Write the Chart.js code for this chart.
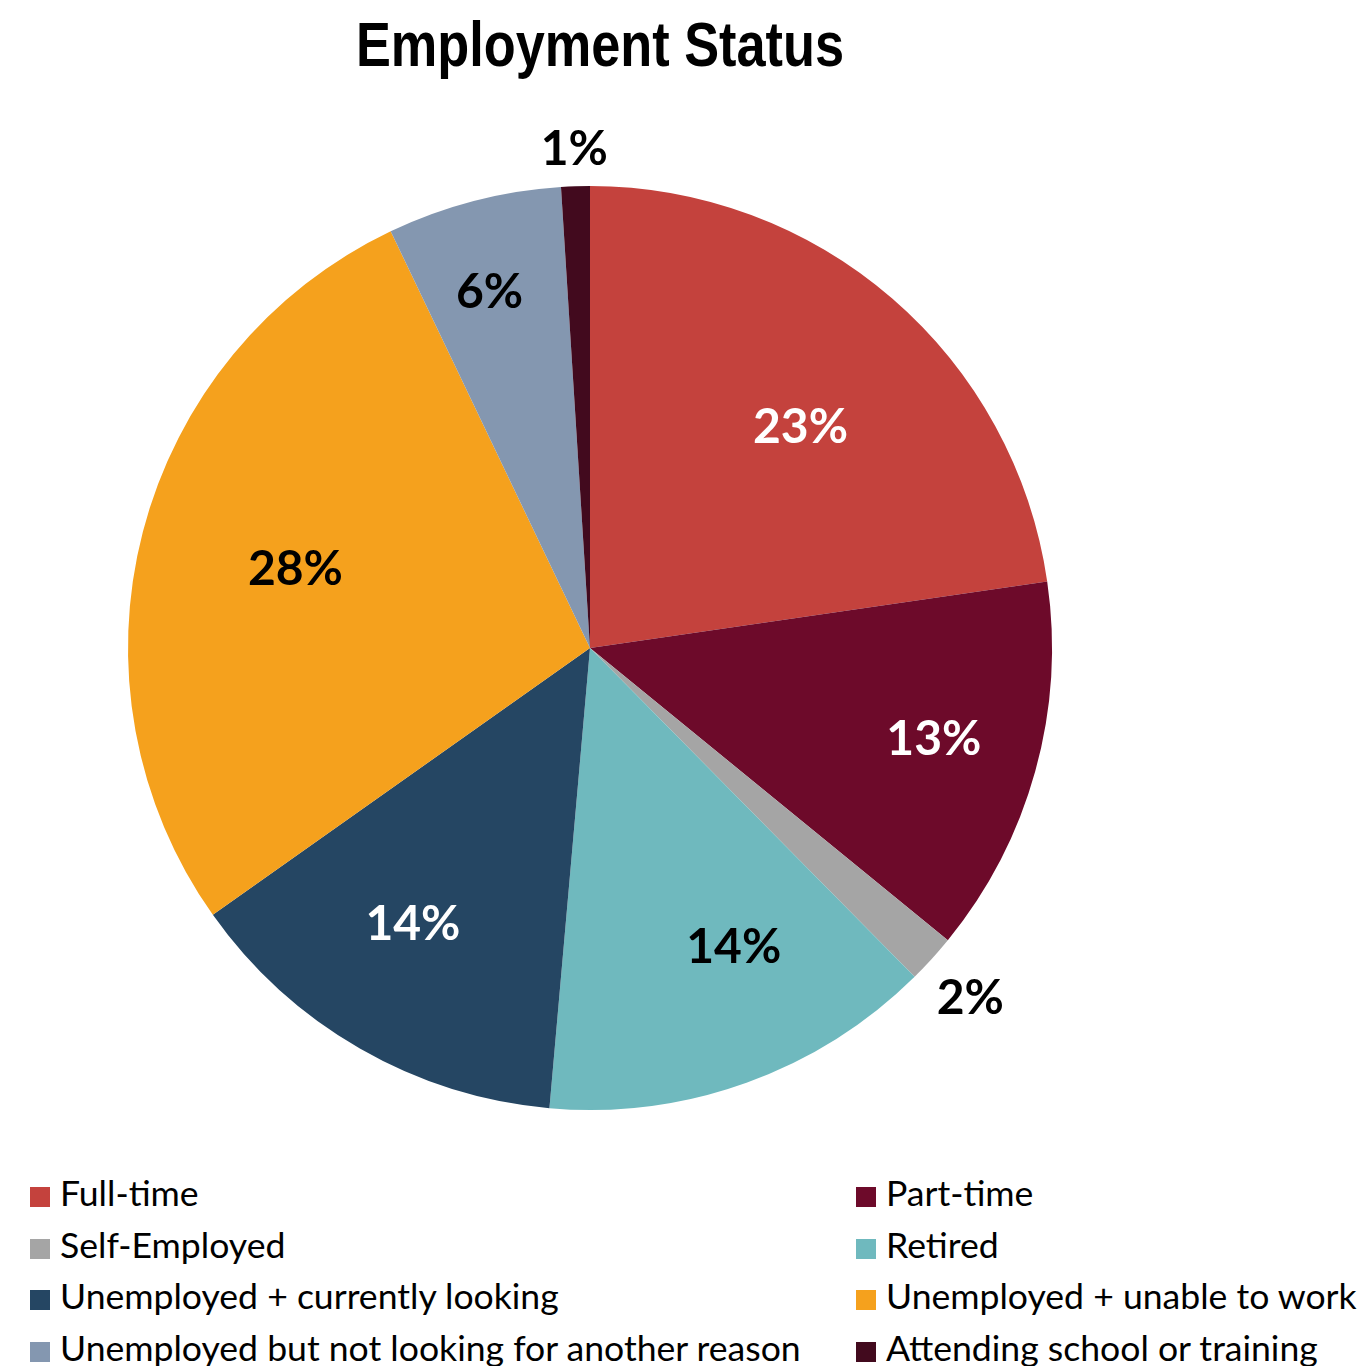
<!DOCTYPE html>
<html>
<head>
<meta charset="utf-8">
<script src="https://cdn.jsdelivr.net/npm/chart.js@4/dist/chart.umd.min.js"></script>
<style>
  html, body { margin: 0; padding: 0; background: #fff; width: 1362px; height: 1366px; overflow: hidden; }
  #title { position: absolute; left: 0; width: 1200px; top: 4px; text-align: center;
           font-family: "Liberation Sans", Arial, sans-serif; font-weight: bold;
           font-size: 63px; line-height: 80px; color: #000; transform: scaleX(0.83); transform-origin: 600px 0; }
  #wrap { position: absolute; left: 0; top: 0; width: 1362px; height: 1160px; }
  #legend { position: absolute; left: 0; top: 1167px; width: 1362px; font-family: Lato, "Open Sans", sans-serif;
            font-size: 35.6px; color: #000; }
  .item { position: absolute; white-space: nowrap; line-height: 52px; height: 52px; }
  .box { display: inline-block; width: 20px; height: 20px; margin-right: 10px; vertical-align: -1px; }
</style>
</head>
<body>
<div id="title">Employment Status</div>
<div id="wrap"><canvas id="c"></canvas></div>
<div id="legend"></div>
<script>
const categories = [
  "Full-time",
  "Part-time",
  "Self-Employed",
  "Retired",
  "Unemployed + currently looking",
  "Unemployed + unable to work",
  "Unemployed but not looking for another reason",
  "Attending school or training"
];
const values = [22.7, 13.2, 1.7, 13.8, 13.8, 27.7, 6.1, 1.0];
const colors = ["#C4423D", "#6D0A2A", "#A5A5A5", "#6FB9BE", "#254663", "#F5A11D", "#8497B0", "#420A1E"];
const labelColors = ["#fff", "#fff", "#000", "#000", "#fff", "#000", "#000", "#000"];
// label placement: radius as fraction of pie radius, angle shift in degrees
const labelRadius = [0.66, 0.77, 1.12, 0.72, 0.71, 0.66, 0.80, 1.08];
const labelShift = [2.8, -0.6, 0.4, -5.8, 2.8, 0.4, -1.2, 0];

const dataLabels = {
  id: 'dataLabels',
  afterDatasetsDraw(chart) {
    const ctx = chart.ctx;
    const meta = chart.getDatasetMeta(0);
    ctx.save();
    ctx.font = 'bold 48px Lato, "Open Sans", sans-serif';
    ctx.textAlign = 'center';
    ctx.textBaseline = 'middle';
    meta.data.forEach((arc, i) => {
      const p = arc.getProps(['x', 'y', 'startAngle', 'endAngle', 'outerRadius'], true);
      const mid = (p.startAngle + p.endAngle) / 2 + labelShift[i] * Math.PI / 180;
      const r = p.outerRadius * labelRadius[i];
      ctx.fillStyle = labelColors[i];
      ctx.fillText(Math.round(values[i]) + '%', p.x + r * Math.cos(mid), p.y + r * Math.sin(mid));
    });
    ctx.restore();
  }
};

new Chart(document.getElementById('c'), {
  type: 'pie',
  data: {
    labels: categories,
    datasets: [{ data: values, backgroundColor: colors, borderWidth: 0, hoverOffset: 0 }]
  },
  options: {
    responsive: true,
    maintainAspectRatio: false,
    animation: false,
    layout: { padding: { left: 128, right: 310, top: 186, bottom: 50 } },
    plugins: { legend: { display: false }, title: { display: false }, tooltip: { enabled: false } }
  },
  plugins: [dataLabels]
});

// legend in two columns (row-major order, as in the reference)
const legend = document.getElementById('legend');
const colX = [30, 856];
categories.forEach((name, i) => {
  const d = document.createElement('div');
  d.className = 'item';
  d.style.left = colX[i % 2] + 'px';
  d.style.top = (Math.floor(i / 2) * 51.7) + 'px';
  const b = document.createElement('span');
  b.className = 'box';
  b.style.background = colors[i];
  d.appendChild(b);
  d.appendChild(document.createTextNode(name));
  legend.appendChild(d);
});
</script>
</body>
</html>
